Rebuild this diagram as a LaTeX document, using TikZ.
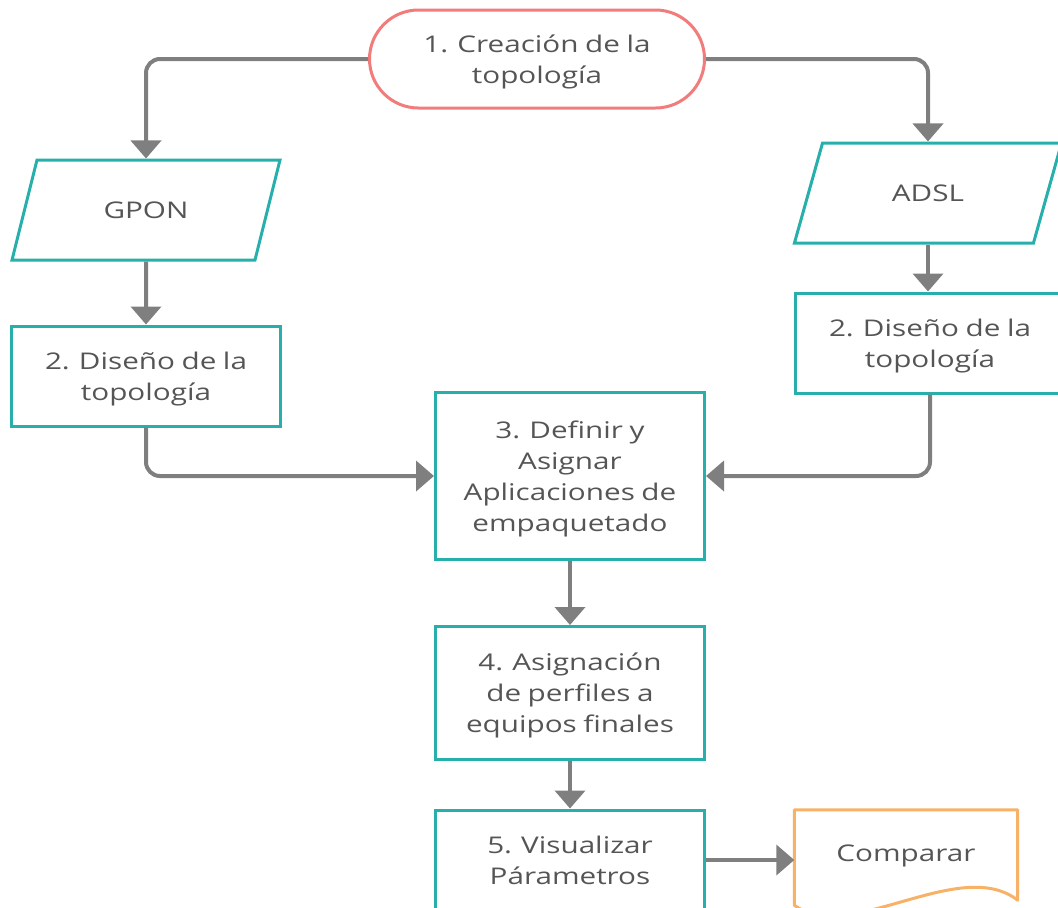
\documentclass[tikz,border=0pt]{standalone}
\usepackage{fontspec}
\setmainfont{Open Sans}[FakeStretch=1.29, WordSpace=0.85]
\usetikzlibrary{shapes.geometric,arrows.meta,calc}
\definecolor{tealline}{HTML}{27AFAB}
\definecolor{startred}{HTML}{F27B7B}
\definecolor{docorange}{HTML}{F7B267}
\definecolor{linkgray}{HTML}{7F7F7F}
\definecolor{txtgray}{HTML}{555555}
\begin{document}
\begin{tikzpicture}[x=1pt, y=-1pt,
  font=\fontsize{23}{31}\selectfont,
  box/.style={draw=tealline, line width=3pt, minimum width=269pt, align=center, text=txtgray, text depth=0pt},
  io/.style={trapezium, trapezium left angle=66, trapezium right angle=114, trapezium stretches=true,
    draw=tealline, line width=3pt, minimum width=268pt, minimum height=100pt, text=txtgray},
  link/.style={draw=linkgray, line width=4pt, rounded corners=14pt, -{Triangle[width=30pt,length=18pt]}}]
\useasboundingbox (0,0) rectangle (1058,908);
\clip (0,0) rectangle (1058,908);

\node (start) [draw=startred, line width=3pt, rounded corners=49pt, minimum width=335pt, minimum height=98pt, align=center, text=txtgray, text depth=0pt] at (537,59) {1. Creación de la\\topología};
\node (gpon) [io] at (146,210) {GPON};
\node (adsl) [io] at (928,193) {ADSL};
\node (disleft) [box, minimum height=100pt] at (146,376) {2. Diseño de la\\topología};
\node (disright) [box, minimum height=100pt] at (930,343) {2. Diseño de la\\topología};
\node (apps) [box, minimum height=167pt] at (570,476) {3. Definir y\\Asignar\\Aplicaciones de\\empaquetado};
\node (perf) [box, minimum height=133pt] at (570,693) {4. Asignación\\de perfiles a\\equipos finales};
\node (vis) [box, minimum height=100pt] at (570,860) {5. Visualizar\\Párametros};
\node (cmp) [minimum width=223pt, minimum height=86pt, text=txtgray, text depth=0pt] at (906,853) {Comparar};

% documento
\draw [docorange, line width=3pt, line join=round]
  (cmp.north west) -- (cmp.north east) -- ($(cmp.south east)+(0,4)$)
  .. controls ($(cmp.south east)+(-58,-41)$) and ($(cmp.south west)+(55,49)$) .. ($(cmp.south west)+(0,9)$) -- cycle;

\draw [link] (start.west) -| (gpon.north);
\draw [link] (start.east) -| (adsl.north);
\draw [link] (gpon.south) -- (disleft.north);
\draw [link] (adsl.south) -- (adsl.south |- disright.north);
\draw [link] (disleft.south) |- (apps.west);
\draw [link] (disright.south) |- (apps.east);
\draw [link] (apps.south) -- (perf.north);
\draw [link] (perf.south) -- (vis.north);
\draw [link] (vis.east) -- (vis.east -| cmp.west);
\end{tikzpicture}
\end{document}
